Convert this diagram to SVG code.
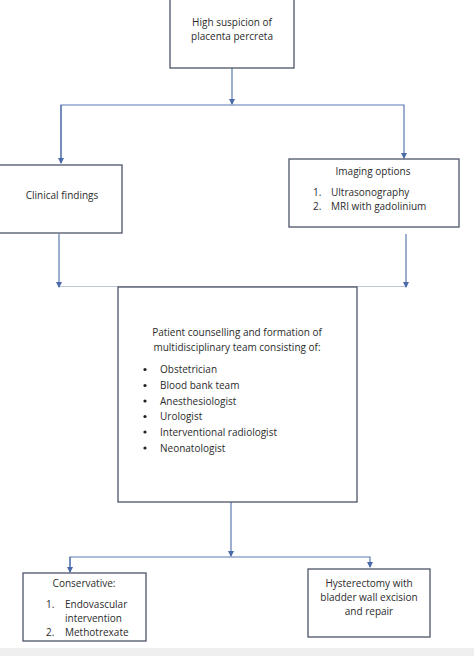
<svg xmlns="http://www.w3.org/2000/svg" width="474" height="656" viewBox="0 0 474 656">
<defs>
<marker id="ah" markerWidth="6" markerHeight="6" refX="5" refY="3" orient="auto" markerUnits="userSpaceOnUse">
<path d="M0,0 L6,3 L0,6 Z" fill="#4a6aa8"/>
</marker>
<style>
.box{fill:#fff;stroke:#4b5568;stroke-width:1.3}
.ln{fill:none;stroke:#5b78b0;stroke-width:1.2}
.faint{fill:none;stroke:#bcc6d6;stroke-width:1.2}
text{font-family:"Open Sans","Liberation Sans",sans-serif;font-size:10px;fill:#2b2b2b}
.c{text-anchor:middle}
</style>
</defs>
<rect x="0" y="0" width="474" height="656" fill="#fff"/>
<rect x="0" y="648" width="474" height="8" fill="#efefef"/>
<g id="connectors">
<line class="ln" x1="232" y1="68" x2="232" y2="104" marker-end="url(#ah)"/>
<polyline class="ln" points="61,163 61,105 404,105 404,158" marker-end="url(#ah)"/>
<line class="ln" x1="61" y1="105" x2="61" y2="163" marker-end="url(#ah)"/>
<line class="faint" x1="59" y1="286.5" x2="406" y2="286.5"/>
<line class="ln" x1="59" y1="234" x2="59" y2="287" marker-end="url(#ah)"/>
<line class="ln" x1="406" y1="234" x2="406" y2="287" marker-end="url(#ah)"/>
<line class="ln" x1="231" y1="502" x2="231" y2="556" marker-end="url(#ah)"/>
<polyline class="ln" points="70,572 70,557 370,557 370,567" marker-end="url(#ah)"/>
<line class="ln" x1="70" y1="557" x2="70" y2="572" marker-end="url(#ah)"/>
</g>
<g id="n-top">
<rect class="box" x="170" y="-2" width="124" height="70"/>
<text class="c" x="232" y="26">High suspicion of</text>
<text class="c" x="232" y="40">placenta percreta</text>
</g>
<g id="n-clinical">
<rect class="box" x="-2" y="165" width="124" height="68"/>
<text class="c" x="62" y="199">Clinical findings</text>
</g>
<g id="n-imaging">
<rect class="box" x="289" y="159" width="170" height="68"/>
<text class="c" x="373" y="175">Imaging options</text>
<text x="313" y="196">1.</text><text x="331" y="196">Ultrasonography</text>
<text x="313" y="210">2.</text><text x="331" y="210">MRI with gadolinium</text>
</g>
<g id="n-team">
<rect class="box" x="118" y="287" width="239" height="215"/>
<text class="c" x="237" y="336">Patient counselling and formation of</text>
<text class="c" x="237" y="351">multidisciplinary team consisting of:</text>
<g fill="#222">
<circle cx="145" cy="369.5" r="1.6"/><circle cx="145" cy="385.5" r="1.6"/><circle cx="145" cy="401" r="1.6"/>
<circle cx="145" cy="416.5" r="1.6"/><circle cx="145" cy="432" r="1.6"/><circle cx="145" cy="448" r="1.6"/>
</g>
<text x="160" y="373">Obstetrician</text>
<text x="160" y="389">Blood bank team</text>
<text x="160" y="404.5">Anesthesiologist</text>
<text x="160" y="420">Urologist</text>
<text x="160" y="435.5">Interventional radiologist</text>
<text x="160" y="451.5">Neonatologist</text>
</g>
<g id="n-conservative">
<rect class="box" x="23" y="573" width="123" height="68"/>
<text class="c" x="84" y="587">Conservative:</text>
<text x="46" y="608">1.</text><text x="65" y="608">Endovascular</text>
<text x="65" y="622">intervention</text>
<text x="46" y="636">2.</text><text x="65" y="636">Methotrexate</text>
</g>
<g id="n-hysterectomy">
<rect class="box" x="308" y="569" width="122" height="68"/>
<text class="c" x="369" y="587">Hysterectomy with</text>
<text class="c" x="369" y="601">bladder wall excision</text>
<text class="c" x="369" y="615">and repair</text>
</g>
</svg>
